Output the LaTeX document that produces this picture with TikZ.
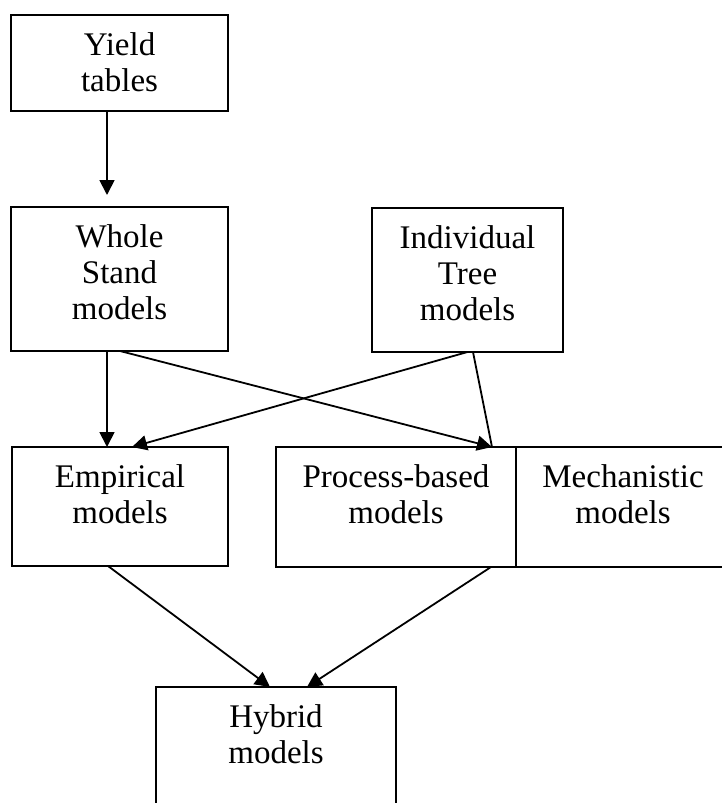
\documentclass[tikz,border=0pt]{standalone}
\usepackage{fontspec}
\setmainfont{Liberation Serif}
\usetikzlibrary{arrows.meta,calc}
\begin{document}
\begin{tikzpicture}[x=1pt,y=-1pt,
  box/.style={draw,line width=2pt,inner sep=0pt,outer sep=0pt},
  txt/.style={anchor=north,inner sep=0pt,align=center,font=\fontsize{33}{36}\selectfont},
  conn/.style={line width=1.8pt},
  arr/.style={conn,-{Triangle[length=15pt,width=15pt]}}]
\useasboundingbox (0,0) rectangle (721,803);
% boxes
\node[box,minimum width=217,minimum height=96] (yield) at (119.5,63) {};
\node[box,minimum width=217,minimum height=144] (whole) at (119.5,279) {};
\node[box,minimum width=191,minimum height=144] (indiv) at (467.5,280) {};
\node[box,minimum width=216,minimum height=119] (emp) at (120,506.5) {};
\node[box,minimum width=240,minimum height=120] (proc) at (396,507) {};
\node[box,minimum width=214,minimum height=120] (mech) at (623,507) {};
\node[box,minimum width=240,minimum height=123] (hyb) at (276,748.5) {};
% texts
\node[txt] (tyield) at ([yshift=-15]yield.north) {\strut Yield\\tables};
\node[txt] (twhole) at ([yshift=-15]whole.north) {\strut Whole\\Stand\\models};
\node[txt] (tindiv) at ([yshift=-15]indiv.north) {\strut Individual\\Tree\\models};
\node[txt] (temp) at ([yshift=-15]emp.north) {\strut Empirical\\models};
\node[txt] (tproc) at ([yshift=-15]proc.north) {\strut Process-based\\models};
\node[txt] (tmech) at ([yshift=-15]mech.north) {\strut Mechanistic\\models};
\node[txt] (thyb) at ([yshift=-15]hyb.north) {\strut Hybrid\\models};
% connectors
\draw[arr,shorten >=12pt] ([xshift=-12.5]yield.south) -- ([xshift=-12.5]whole.north);
\draw[arr] ([xshift=-12.5]whole.south) -- ([xshift=-13]emp.north);
\draw[arr] ([xshift=0.5]whole.south) -- ([xshift=96]proc.north);
\draw[arr] (indiv.south) -- ([xshift=12]emp.north);
\draw[conn] ([xshift=5.5]indiv.south) -- ([xshift=96]proc.north);
\draw[arr] ([xshift=-12]emp.south) -- ([xshift=-6]hyb.north);
\draw[arr] ([xshift=95]proc.south) -- ([xshift=31]hyb.north);
\end{tikzpicture}
\end{document}
